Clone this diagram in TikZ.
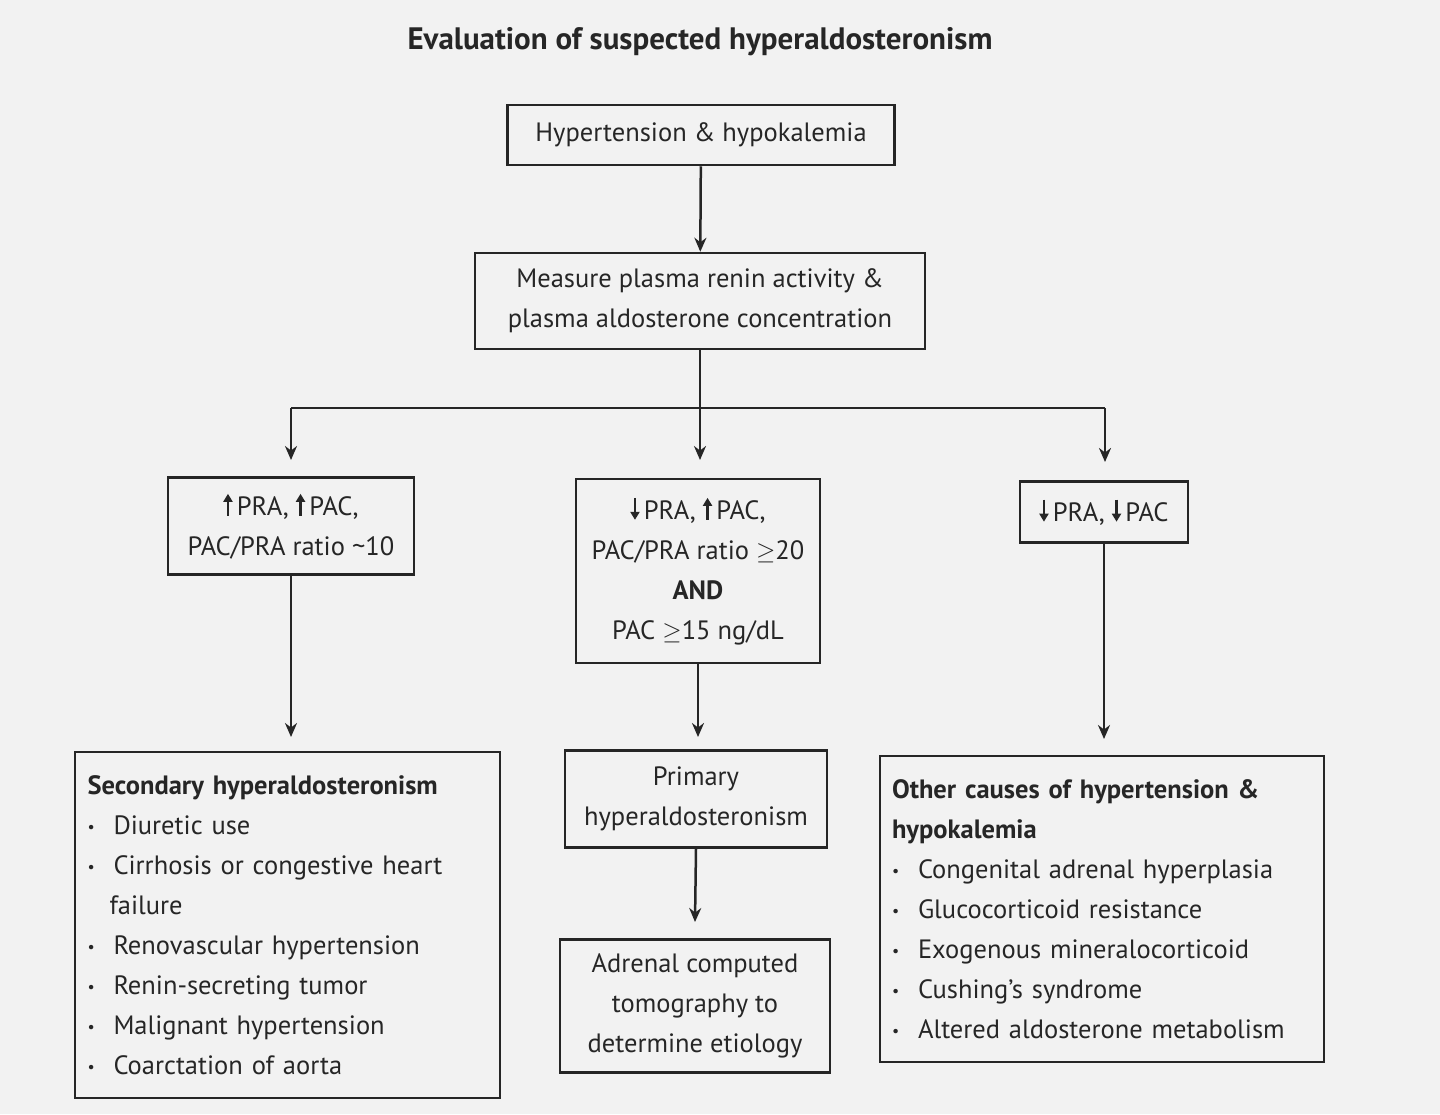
\documentclass[tikz,border=0pt]{standalone}
\usepackage{fontspec}
\setmainfont{PT Sans}
\usetikzlibrary{arrows.meta}
\newcommand{\itm}[1]{\makebox[26pt][l]{\raisebox{2pt}{\scalebox{0.6}{\textbullet}}}#1}
\newcommand{\upa}{\tikz[baseline=0pt]{\draw[-{Triangle[length=8pt,width=9pt]},line width=2.6pt] (0pt,0pt)--(0pt,22pt);}\,}
\newcommand{\dna}{\tikz[baseline=0pt]{\draw[-{Triangle[length=8pt,width=9pt]},line width=2.6pt] (0pt,22pt)--(0pt,0pt);}\,}
\begin{document}
\begin{tikzpicture}[x=1pt,y=-1pt,
  box/.style={draw=black!85,line width=2.5pt,inner sep=0pt,text=black!85,font=\fontsize{26.5}{40}\selectfont,align=center},
  arr/.style={draw=black!85,line width=2.5pt,-{Stealth[length=14pt,width=12pt]}},
  ln/.style={draw=black!85,line width=2.5pt}]
\useasboundingbox (0,0) rectangle (1440,1114);
\fill[gray!10] (0,0) rectangle (1440,1114);
\node[font=\fontsize{31}{34}\selectfont\bfseries,text=black!85] (title) at (700,42) {Evaluation of suspected hyperaldosteronism};
\node[box,minimum width=387pt,minimum height=60pt] (b1) at (701,135) {Hypertension \& hypokalemia};
\node[box,minimum width=450pt,minimum height=96pt] (b2) at (700,301) {Measure plasma renin activity \&\\plasma aldosterone concentration};
\node[box,minimum width=246pt,minimum height=97pt] (l1) at (291,526) {\upa PRA, \upa PAC,\\PAC/PRA ratio \textasciitilde10};
\node[box,minimum width=244pt,minimum height=184pt] (m1) at (698,571) {\dna PRA, \upa PAC,\\PAC/PRA ratio $\geq$20\\\textbf{AND}\\PAC $\geq$15 ng/dL};
\node[box,minimum width=168pt,minimum height=61pt] (r1) at (1104,512) {\dna PRA, \dna PAC};
\node[box,minimum width=425pt,minimum height=346pt,align=left,text width=400pt,inner xsep=12pt] (l2) at (287.5,925) {\textbf{Secondary hyperaldosteronism}\\
\itm{Diuretic use}\\ \itm{Cirrhosis or congestive heart}\\ \hspace*{22pt}failure\\ \itm{Renovascular hypertension}\\ \itm{Renin-secreting tumor}\\ \itm{Malignant hypertension}\\ \itm{Coarctation of aorta}};
\node[box,minimum width=262pt,minimum height=97pt] (m2) at (696,799) {Primary\\hyperaldosteronism};
\node[box,minimum width=270pt,minimum height=133pt] (m3) at (695,1006) {Adrenal computed\\tomography to\\determine etiology};
\node[box,minimum width=444pt,minimum height=306pt,align=left,text width=420pt,inner xsep=12pt] (r2) at (1102,909) {\textbf{Other causes of hypertension \&}\\\textbf{hypokalemia}\\
\itm{Congenital adrenal hyperplasia}\\ \itm{Glucocorticoid resistance}\\ \itm{Exogenous mineralocorticoid}\\ \itm{Cushing's syndrome}\\ \itm{Altered aldosterone metabolism}};
\coordinate (j) at (700,408);
\coordinate (jl) at (291,408);
\coordinate (jr) at (1105,408);
\draw[arr] (b1) -- (b2);
\draw[ln] (b2.south) -- (j);
\draw[ln] (jl) -- (jr);
\draw[arr] (j) -- (700,460);
\draw[arr] (jl) -- (291,460);
\draw[arr] (jr) -- (1105,462);
\draw[arr] (l1.south) -- (291,737);
\draw[arr] (m1.south) -- (698,737);
\draw[arr] (r1.south) -- (1104,739);
\draw[arr] (m2.south) -- (695,922);
\end{tikzpicture}
\end{document}
